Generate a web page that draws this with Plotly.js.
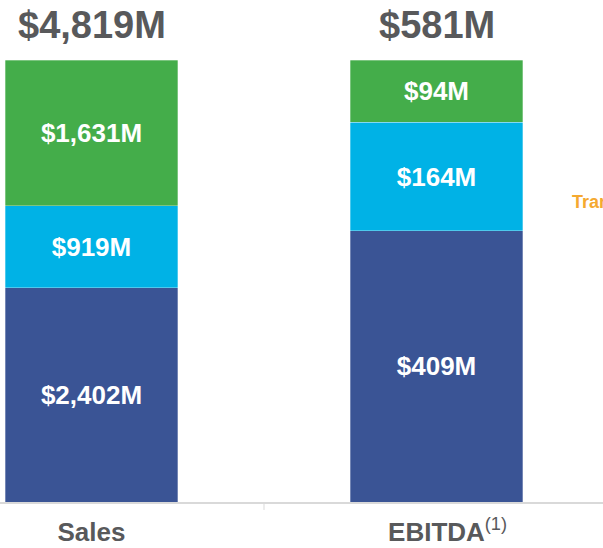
<!DOCTYPE html>
<html>
<head>
<meta charset="utf-8">
<script src="https://cdn.plot.ly/plotly-3.0.1.min.js"></script>
<style>html,body{margin:0;padding:0;background:#fff;}#chart{width:603px;height:548px;}</style>
</head>
<body>
<div id="chart"></div>
<script>
var categories = ['Sales', 'EBITDA'];
var tickLabels = ['<b>Sales</b>', '<b>EBITDA</b><sup>(1)</sup>'];
var seriesBlue = [2402, 409];
var seriesCyan = [919, 164];
var seriesGreen = [1631, 94];
var totals = [4819, 581];
var sideNote = 'Transportation';

function fmt(v) { return '<b>$' + v.toLocaleString('en-US') + 'M</b>'; }

var font = 'Liberation Sans, Arial, sans-serif';
var colors = ['#3A5495', '#00B2E6', '#44AD4A'];
var sets = [seriesBlue, seriesCyan, seriesGreen];
var traces = sets.map(function (s, i) {
  return {
    type: 'bar', x: categories, y: s,
    text: s.map(fmt), textposition: 'inside', insidetextanchor: 'middle',
    textfont: {family: font, size: 26, color: '#ffffff'},
    marker: {color: colors[i], line: {color: 'rgba(255,255,255,0.5)', width: 0.6}},
    width: 0.5, hoverinfo: 'skip', showlegend: false, cliponaxis: false
  };
});

var annotations = categories.map(function (c, i) {
  return {x: c, y: 100, xref: 'x', yref: 'y', yanchor: 'bottom', yshift: 12,
    text: '<b>$' + totals[i].toLocaleString('en-US') + 'M</b>', showarrow: false,
    font: {family: font, size: 38, color: '#58595B'}};
});
annotations.push({xref: 'paper', yref: 'paper', x: 570 / 603, y: (502 - 202) / 442,
  xanchor: 'left', yanchor: 'middle', text: '<b>' + sideNote + '</b>', showarrow: false,
  font: {family: font, size: 18, color: '#F5A930'}});

var layout = {
  width: 603, height: 548,
  margin: {l: 0, r: 0, t: 60, b: 46, pad: 0},
  paper_bgcolor: '#ffffff', plot_bgcolor: '#ffffff',
  barmode: 'stack', barnorm: 'percent',
  xaxis: {type: 'category', range: [-0.2652, 1.4826], tickmode: 'array', tickvals: [0, 1.032], ticktext: tickLabels,
    showline: true, linecolor: '#D9D9D9', linewidth: 2, ticks: '', showgrid: false, zeroline: false,
    ticklabelstandoff: 6,
    tickfont: {family: font, size: 26, color: '#58595B'}, fixedrange: true},
  yaxis: {range: [0, 100], visible: false, fixedrange: true},
  shapes: [{type: 'line', xref: 'x', yref: 'paper', x0: 0.5, x1: 0.5, y0: 0, y1: -0.018,
    line: {color: '#D9D9D9', width: 1}}],
  annotations: annotations
};
Plotly.newPlot('chart', traces, layout, {displayModeBar: false, staticPlot: true});
</script>
</body>
</html>
